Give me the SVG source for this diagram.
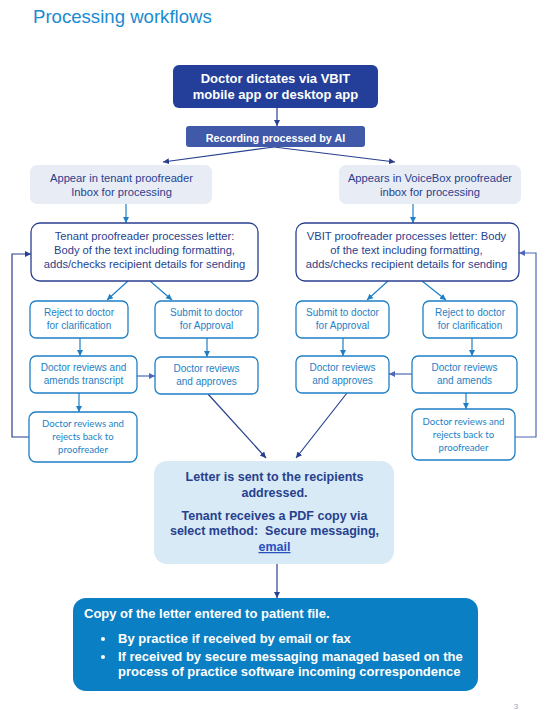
<svg xmlns="http://www.w3.org/2000/svg" width="548" height="710" viewBox="0 0 548 710">
<defs>
<style>
text{font-family:"Liberation Sans",Arial,sans-serif;text-anchor:middle}
.title{font-size:18.6px;fill:#1a8ad2;text-anchor:start}
.dark{fill:#233f99}
.rec{fill:#4059a8}
.wb{fill:#ffffff;font-weight:bold}
.gray{fill:#e8ecf5}
.navyt{fill:#283f8f;font-size:11.2px}
.pbox{fill:#ffffff;stroke:#283f8f;stroke-width:1.3}
.sbox{fill:#ffffff;stroke:#1e7fc6;stroke-width:1.3}
.st{fill:#1e7fc6;font-size:10px}
.ct{fill:#1e7fc6;font-size:9.6px;font-family:Lato,"Liberation Sans",sans-serif}
.letter{fill:#d7eaf5}
.lt{fill:#283f8f;font-size:12.5px;font-weight:bold}
.final{fill:#0a7fc4}
.ft{fill:#ffffff;font-size:13px;font-weight:bold;text-anchor:start}
.cn{fill:none;stroke:#283f8f;stroke-width:1.2}
.cl{fill:none;stroke:#1e7fc6;stroke-width:1.2}
.cm{fill:none;stroke:#4d68b8;stroke-width:1.2}
</style>
<marker id="an" markerUnits="userSpaceOnUse" markerWidth="7" markerHeight="7" refX="6" refY="3" orient="auto"><path d="M0,0 L6,3 L0,6 z" fill="#283f8f"/></marker>
<marker id="al" markerUnits="userSpaceOnUse" markerWidth="7" markerHeight="7" refX="6" refY="3" orient="auto"><path d="M0,0 L6,3 L0,6 z" fill="#1e7fc6"/></marker>
<marker id="am" markerUnits="userSpaceOnUse" markerWidth="7" markerHeight="7" refX="6" refY="3" orient="auto"><path d="M0,0 L6,3 L0,6 z" fill="#4d68b8"/></marker>
</defs>
<rect width="548" height="710" fill="#ffffff"/>
<text class="title" x="33" y="23">Processing workflows</text>

<g id="connectors">
<path class="cn" marker-end="url(#an)" d="M277,108 L277,126"/>
<path class="cn" marker-end="url(#an)" d="M274,147 L163,162"/>
<path class="cn" marker-end="url(#an)" d="M274,147 L395,162"/>
<path class="cl" marker-end="url(#al)" d="M126,204 L126,223"/>
<path class="cl" marker-end="url(#al)" d="M413,204 L413,223"/>
<path class="cl" marker-end="url(#al)" d="M128,281 L107,300"/>
<path class="cl" marker-end="url(#al)" d="M150,281 L172,300"/>
<path class="cl" marker-end="url(#al)" d="M80,338 L80,356"/>
<path class="cl" marker-end="url(#al)" d="M207,338 L207,357"/>
<path class="cm" marker-end="url(#am)" d="M137,376 L155,376"/>
<path class="cl" marker-end="url(#al)" d="M79,393 L79,412"/>
<path class="cn" marker-end="url(#an)" d="M29,437 L12,437 L12,254 L31,254"/>
<path class="cn" marker-end="url(#an)" d="M208,394 L266,458"/>
<path class="cl" marker-end="url(#al)" d="M388,281 L367,300"/>
<path class="cl" marker-end="url(#al)" d="M422,281 L446,300"/>
<path class="cl" marker-end="url(#al)" d="M343,338 L343,356"/>
<path class="cl" marker-end="url(#al)" d="M472,338 L472,356"/>
<path class="cm" marker-end="url(#am)" d="M412,374 L389,374"/>
<path class="cl" marker-end="url(#al)" d="M466,393 L466,409"/>
<path class="cm" marker-end="url(#am)" d="M515,437 L536,437 L536,253 L519,253"/>
<path class="cn" marker-end="url(#an)" d="M347,393 L296,458"/>
<path class="cn" marker-end="url(#an)" d="M277,564 L277,598"/>
</g>

<g id="dictate">
<rect class="dark" x="173" y="65" width="205" height="43" rx="6"/>
<text class="wb" x="275.5" y="83" font-size="13">Doctor dictates via VBIT</text>
<text class="wb" x="275.5" y="99" font-size="13">mobile app or desktop app</text>
</g>
<g id="recording">
<rect class="rec" x="186" y="126" width="179" height="21" rx="3"/>
<text class="wb" x="275.5" y="141.5" font-size="10.8">Recording processed by AI</text>
</g>
<g id="tenant-inbox">
<rect class="gray" x="30" y="165" width="182" height="39" rx="7"/>
<text class="navyt" x="121.5" y="182">Appear in tenant proofreader</text>
<text class="navyt" x="121.5" y="196">Inbox for processing</text>
</g>
<g id="voicebox-inbox">
<rect class="gray" x="339" y="165" width="182" height="39" rx="7"/>
<text class="navyt" x="430" y="182">Appears in VoiceBox proofreader</text>
<text class="navyt" x="430" y="196">inbox for processing</text>
</g>
<g id="tenant-proofreader">
<rect class="pbox" x="31" y="223" width="227" height="58" rx="9"/>
<text class="navyt" x="144.5" y="240">Tenant proofreader processes letter:</text>
<text class="navyt" x="144.5" y="254">Body of the text including formatting,</text>
<text class="navyt" x="144.5" y="268">adds/checks recipient details for sending</text>
</g>
<g id="vbit-proofreader">
<rect class="pbox" x="296" y="223" width="223" height="58" rx="9"/>
<text class="navyt" x="406.5" y="240">VBIT proofreader processes letter: Body</text>
<text class="navyt" x="406.5" y="254">of the text including formatting,</text>
<text class="navyt" x="406.5" y="268">adds/checks recipient details for sending</text>
</g>
<g id="left-reject">
<rect class="sbox" x="30" y="301" width="98" height="37" rx="6"/>
<text class="st" x="79" y="316">Reject to doctor</text>
<text class="st" x="79" y="329">for clarification</text>
</g>
<g id="left-submit">
<rect class="sbox" x="155" y="301" width="103" height="37" rx="6"/>
<text class="st" x="206.5" y="316">Submit to doctor</text>
<text class="st" x="206.5" y="329">for Approval</text>
</g>
<g id="left-amends">
<rect class="sbox" x="30" y="356" width="107" height="37" rx="6"/>
<text class="st" x="83.5" y="371">Doctor reviews and</text>
<text class="st" x="83.5" y="384">amends transcript</text>
</g>
<g id="left-approves">
<rect class="sbox" x="155" y="357" width="103" height="37" rx="6"/>
<text class="st" x="206.5" y="372">Doctor reviews</text>
<text class="st" x="206.5" y="385">and approves</text>
</g>
<g id="left-rejects">
<rect class="sbox" x="29" y="412" width="108" height="50" rx="7"/>
<text class="ct" x="83" y="427">Doctor reviews and</text>
<text class="ct" x="83" y="440">rejects back to</text>
<text class="ct" x="83" y="453">proofreader</text>
</g>
<g id="right-submit">
<rect class="sbox" x="296" y="301" width="93" height="37" rx="6"/>
<text class="st" x="342.5" y="316">Submit to doctor</text>
<text class="st" x="342.5" y="329">for Approval</text>
</g>
<g id="right-reject">
<rect class="sbox" x="423" y="301" width="94" height="37" rx="6"/>
<text class="st" x="470" y="316">Reject to doctor</text>
<text class="st" x="470" y="329">for clarification</text>
</g>
<g id="right-approves">
<rect class="sbox" x="296" y="356" width="93" height="37" rx="6"/>
<text class="st" x="342.5" y="371">Doctor reviews</text>
<text class="st" x="342.5" y="384">and approves</text>
</g>
<g id="right-amends">
<rect class="sbox" x="412" y="356" width="105" height="37" rx="6"/>
<text class="st" x="464.5" y="371">Doctor reviews</text>
<text class="st" x="464.5" y="384">and amends</text>
</g>
<g id="right-rejects">
<rect class="sbox" x="412" y="409" width="103" height="51" rx="7"/>
<text class="ct" x="463.5" y="425">Doctor reviews and</text>
<text class="ct" x="463.5" y="438">rejects back to</text>
<text class="ct" x="463.5" y="451">proofreader</text>
</g>
<g id="letter-sent">
<rect class="letter" x="154" y="461" width="240" height="103" rx="13"/>
<text class="lt" x="274.5" y="481">Letter is sent to the recipients</text>
<text class="lt" x="274.5" y="497">addressed.</text>
<text class="lt" x="274.5" y="520">Tenant receives a PDF copy via</text>
<text class="lt" x="274.5" y="535" xml:space="preserve">select method:  Secure messaging,</text>
<text class="lt" x="274.5" y="551" style="fill:#2a4fbf" text-decoration="underline">email</text>
</g>
<g id="patient-file">
<rect class="final" x="73" y="598" width="405" height="93" rx="13"/>
<text class="ft" x="84" y="618">Copy of the letter entered to patient file.</text>
<circle cx="103" cy="639" r="2" fill="#ffffff"/>
<text class="ft" x="118" y="643">By practice if received by email or fax</text>
<circle cx="103" cy="657" r="2" fill="#ffffff"/>
<text class="ft" x="118" y="661">If received by secure messaging managed based on the</text>
<text class="ft" x="118" y="676">process of practice software incoming correspondence</text>
</g>
<text x="516" y="709" font-size="8" fill="#9aa3cc">3</text>
</svg>
